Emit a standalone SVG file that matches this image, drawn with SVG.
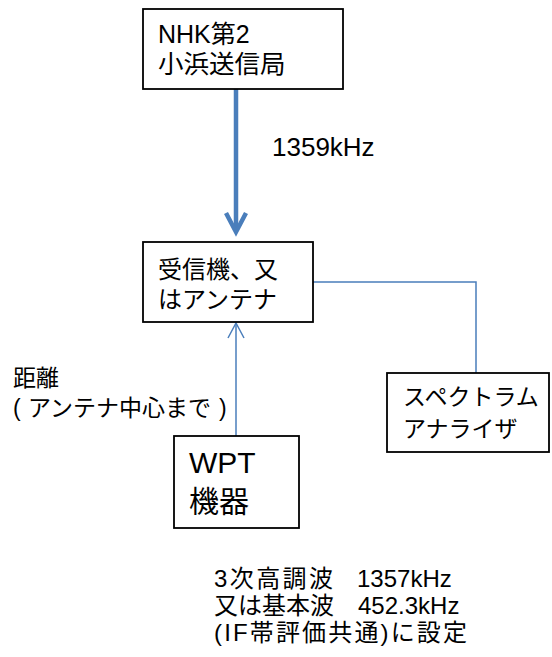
<svg xmlns="http://www.w3.org/2000/svg" width="552" height="657" viewBox="0 0 552 657">
<style>
  text { font-family: "Liberation Sans", "Noto Sans CJK JP", sans-serif; fill: #000; white-space: pre; }
  .box { fill: #fff; stroke: #000; stroke-width: 1.8; }
  .thin { fill: none; stroke: #4a7ebb; stroke-width: 1.5; }
  .thick { fill: none; stroke: #4a7ebb; stroke-width: 4.5; }
</style>
<rect width="552" height="657" fill="#fff"/>
<g id="connectors">
  <line class="thick" x1="236" y1="89" x2="236" y2="231"/>
  <polyline class="thick" points="226,213 236,232 246,213" stroke-linejoin="miter"/>
  <polyline class="thin" points="313,282 476,282 476,373"/>
  <line class="thin" x1="236" y1="436" x2="236" y2="323"/>
  <polyline class="thin" points="228,338 236,323 244,338"/>
</g>
<g id="node-nhk">
  <rect class="box" x="143" y="9" width="200" height="80"/>
  <text x="158" y="43" font-size="25">NHK第2</text>
  <text x="158" y="73" font-size="25.5">小浜送信局</text>
</g>
<g id="label-freq">
  <text x="272" y="156" font-size="26">1359kHz</text>
</g>
<g id="node-receiver">
  <rect class="box" x="143" y="242" width="170" height="80"/>
  <text x="158" y="278" font-size="24">受信機、又</text>
  <text x="158" y="308" font-size="24">はアンテナ</text>
</g>
<g id="node-spectrum">
  <rect class="box" x="387" y="373" width="162" height="79"/>
  <text x="403" y="405" font-size="23">スペクトラム</text>
  <text x="403" y="437" font-size="23">アナライザ</text>
</g>
<g id="label-distance">
  <text x="13" y="386" font-size="23">距離</text>
  <text x="13" y="416" font-size="23">(<tspan x="28">アンテナ中心まで</tspan><tspan x="219">)</tspan></text>
</g>
<g id="node-wpt">
  <rect class="box" x="174" y="436" width="125" height="92"/>
  <text x="189" y="473" font-size="30">WPT</text>
  <text x="189" y="512" font-size="30">機器</text>
</g>
<g id="label-setting">
  <text x="214" y="587" font-size="24"><tspan textLength="119" lengthAdjust="spacing">3次高調波</tspan><tspan x="357">1357kHz</tspan></text>
  <text x="214" y="614" font-size="24">又は基本波<tspan x="358">452.3kHz</tspan></text>
  <text x="214" y="641" font-size="24" textLength="253" lengthAdjust="spacing">(IF帯評価共通)に設定</text>
</g>
</svg>
